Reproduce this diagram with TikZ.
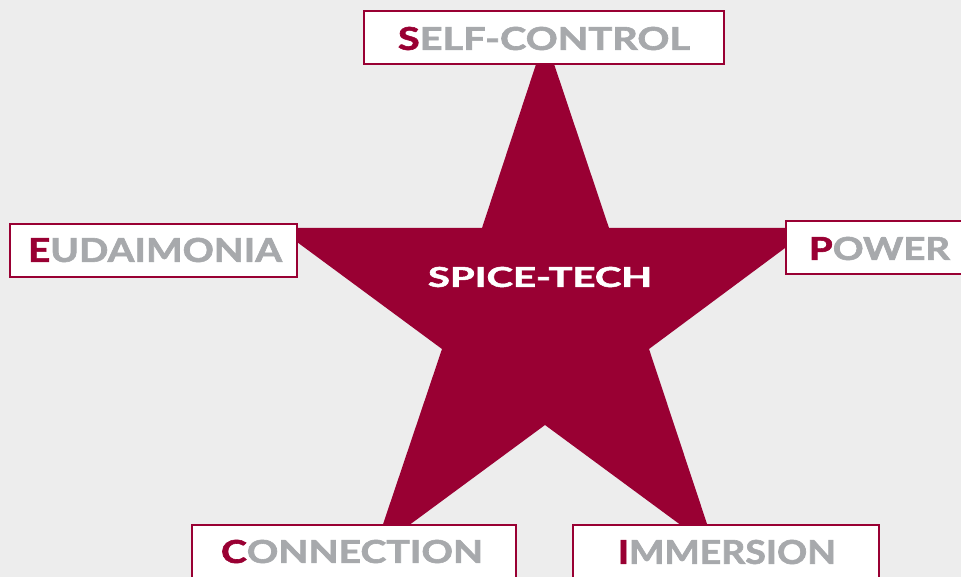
\documentclass[tikz,border=0pt]{standalone}
\usepackage{fontspec}
\usepackage{graphicx}
\setmainfont{Lato}[BoldFeatures={FakeBold=1.8}]
\definecolor{crim}{RGB}{153,0,51}
\definecolor{gtext}{RGB}{167,169,172}
\definecolor{bgc}{RGB}{237,237,237}
\newcommand{\boxlab}[4]{\resizebox{#1pt}{#2pt}{\bfseries\textcolor{crim}{#3}\textcolor{gtext}{#4}}}
\begin{document}
\begin{tikzpicture}[x=1pt,y=-1pt,
  labbox/.style={rectangle, draw=crim, line width=2.2pt, fill=white, inner sep=0pt},
  labtext/.style={inner sep=0pt, anchor=center}]
\useasboundingbox (0,0) rectangle (961,577);
\clip (0,0) rectangle (961,577);
\fill[bgc] (0,0) rectangle (961,577);
% star
\fill[crim] (545,37) -- (609,228) -- (812,228) -- (649,349) -- (716,551) -- (545,425)
  -- (374,551) -- (442,349) -- (278,228) -- (482,228) -- cycle;
\node[labtext] (center) at (540,277) {\resizebox{224pt}{20pt}{\bfseries\textcolor{white}{SPICE-TECH}}};
% boxes
\node[labbox, minimum width=360pt, minimum height=53pt] (sc) at (544,37.5) {};
\node[labbox, minimum width=287pt, minimum height=53pt] (eu) at (153.5,250.5) {};
\node[labbox, minimum width=214pt, minimum height=53pt] (pw) at (893,247.5) {};
\node[labbox, minimum width=324pt, minimum height=74pt] (co) at (354,562) {};
\node[labbox, minimum width=306pt, minimum height=74pt] (im) at (726,562) {};
% labels
\node[labtext] (sct) at (544,38.5) {\boxlab{292}{23}{S}{ELF-CONTROL}};
\node[labtext] (eut) at (155,250) {\boxlab{254}{24}{E}{UDAIMONIA}};
\node[labtext] (pwt) at (879.5,248.5) {\boxlab{141}{23}{P}{OWER}};
\node[labtext] (cot) at (352,551.5) {\boxlab{262}{23}{C}{ONNECTION}};
\node[labtext] (imt) at (727,552) {\boxlab{218}{24}{I}{MMERSION}};
\end{tikzpicture}
\end{document}
